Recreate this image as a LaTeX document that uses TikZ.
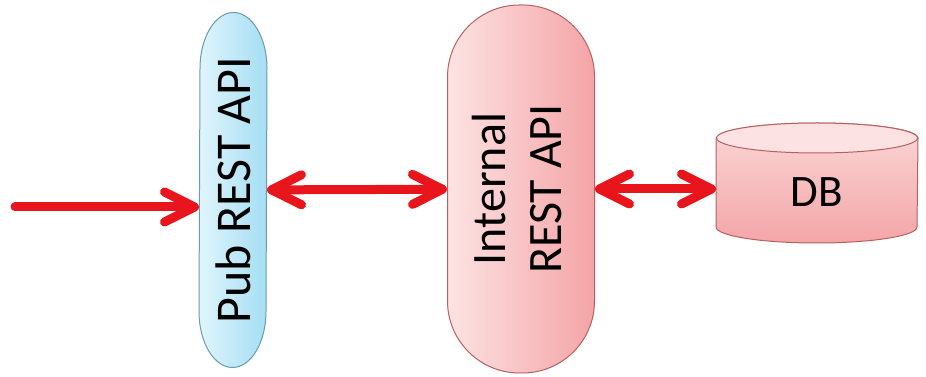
\documentclass[tikz,border=0pt]{standalone}
\usepackage{fontspec}
\setmainfont{Carlito}
\usepackage{tikz}
\usetikzlibrary{arrows.meta,positioning,backgrounds}

\definecolor{apired}{HTML}{E8161C}
\definecolor{pubedge}{HTML}{6A9BB0}
\definecolor{intedge}{HTML}{B86060}

\begin{document}
\begin{tikzpicture}[
  pill/.style={rectangle, line width=1pt, inner sep=0pt},
  link/.style={draw, apired, line width=9pt, line cap=round, {Straight Barb[length=30pt,width=30pt,round]}-{Straight Barb[length=30pt,width=30pt,round]}},
  feed/.style={draw, apired, line width=9pt, line cap=round, -{Straight Barb[length=30pt,width=30pt,round]}}
]
\useasboundingbox (0,0) rectangle (926pt,377pt);
\node [pill, minimum width=67pt, minimum height=354pt, font=\fontsize{50}{60}\selectfont] (pub) at (233pt,187pt) {\rotatebox{90}{Pub REST API}};
\node [pill, draw=intedge, left color={rgb,255:red,253;green,227;blue,227}, right color={rgb,255:red,244;green,164;blue,166}, minimum width=147pt, minimum height=368pt, rounded corners=72pt, font=\fontsize{48}{60}\selectfont, right of=pub, node distance=288pt, yshift=1pt] (internal) {\rotatebox{90}{\begin{tabular}{@{}c@{}}Internal\\[-4pt]REST API\end{tabular}}};
\node [pill, minimum width=201pt, minimum height=119pt, text height=48pt, text depth=0pt, font=\fontsize{45}{54}\selectfont, right of=internal, node distance=296pt, yshift=6pt] (db) {DB};
\coordinate (in) at (15pt,170pt);

% pub api outline with elliptic ends, db drum
\begin{scope}[on background layer]
\path [draw=pubedge, line width=1pt, left color={rgb,255:red,224;green,245;blue,252}, right color={rgb,255:red,164;green,222;blue,243}]
  ([yshift=-56pt]pub.north east) arc[start angle=0, end angle=180, x radius=33.5pt, y radius=56pt]
  -- ([yshift=56pt]pub.south west) arc[start angle=180, end angle=360, x radius=33.5pt, y radius=56pt] -- cycle;
\path [draw=intedge, line width=1pt, top color={rgb,255:red,251;green,214;blue,214}, bottom color={rgb,255:red,243;green,166;blue,168}]
  ([yshift=-15pt]db.north west) -- ([yshift=16pt]db.south west)
  arc[start angle=180, end angle=360, x radius=100.5pt, y radius=16pt]
  -- ([yshift=-15pt]db.north east) arc[start angle=0, end angle=180, x radius=100.5pt, y radius=15pt] -- cycle;
\path [draw=intedge, line width=1pt, fill={rgb,255:red,252;green,226;blue,226}]
  ([yshift=-15pt]db.north) ellipse [x radius=100.5pt, y radius=15pt];
\end{scope}

\path [feed] (in) -- (in -| pub.west);
\path [link] (pub) -- (internal);
\path [link] (internal) -- (internal -| db.west);
\end{tikzpicture}
\end{document}
